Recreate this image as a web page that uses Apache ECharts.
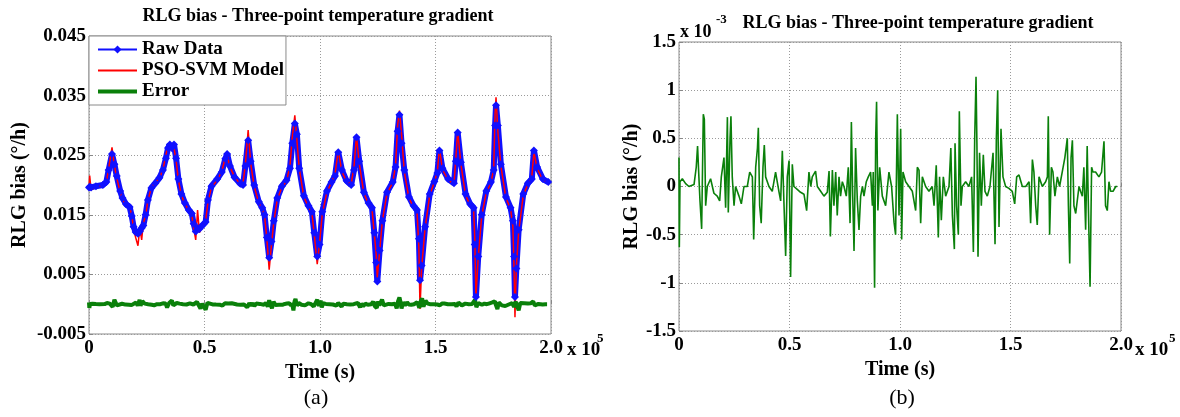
<!DOCTYPE html>
<html>
<head>
<meta charset="utf-8">
<script src="https://cdn.jsdelivr.net/npm/echarts@6/dist/echarts.min.js"></script>
<style>
html,body{margin:0;padding:0;background:#fff;}
#chart{width:1180px;height:417px;}
</style>
</head>
<body>
<div id="chart"></div>
<script>
// time (s) of the points
var rawTime = [0,300,900,3000,6000,7500,8500,9960,11000,12000,13500,14500,16000,17600,18500,19300,20200,21200,22000,22800,23500,24500,25500,27000,28700,30500,32000,33300,34200,35000,35800,36800,37700,38700,40000,41500,43200,44500,45300,46200,47000,47800,48800,50500,51500,53000,55500,57500,59000,59800,61000,63000,65500,66700,67700,68900,70000,71500,73500,75000,76000,77000,78000,79000,80000,81500,83500,85500,87000,88000,89100,90000,91000,93000,95000,96500,97500,98800,99800,101000,103000,105000,106500,107900,109500,111500,113500,114700,115800,117000,119000,121000,122500,123500,124300,124800,125800,127000,129000,131500,132700,133600,134400,135300,136500,138500,140500,142000,142800,143300,144000,145500,147500,149500,150800,151700,153000,155500,158000,158800,159600,161000,163000,165000,166500,167000,167500,168500,170000,172000,174000,175200,175800,176200,177000,178300,180500,182500,183500,184000,184400,185000,186000,188000,190000,191700,192600,194000,196500,198800];
var rawBias = [0.0196,0.0197,0.0196,0.0198,0.0200,0.0205,0.0225,0.0252,0.0235,0.0215,0.0190,0.0178,0.0168,0.0163,0.0148,0.0130,0.0121,0.0118,0.0122,0.0128,0.0132,0.0150,0.0175,0.0195,0.0203,0.0212,0.0225,0.0245,0.0262,0.0268,0.0262,0.0268,0.0245,0.0210,0.0185,0.0170,0.0158,0.0152,0.0135,0.0122,0.0128,0.0126,0.0131,0.0138,0.0175,0.0198,0.0210,0.0222,0.0244,0.0252,0.0232,0.0213,0.0202,0.0200,0.0232,0.0275,0.0240,0.0200,0.0172,0.0162,0.0150,0.0112,0.0078,0.0105,0.0140,0.0178,0.0198,0.0208,0.0228,0.0270,0.0303,0.0285,0.0228,0.0182,0.0165,0.0155,0.0120,0.0080,0.0100,0.0155,0.0190,0.0205,0.0215,0.0255,0.0225,0.0207,0.0200,0.0225,0.0280,0.0240,0.0188,0.0170,0.0162,0.0120,0.0070,0.0038,0.0090,0.0140,0.0188,0.0205,0.0230,0.0290,0.0318,0.0270,0.0225,0.0180,0.0165,0.0158,0.0110,0.0040,0.0065,0.0130,0.0185,0.0206,0.0220,0.0258,0.0228,0.0210,0.0203,0.0240,0.0288,0.0238,0.0185,0.0168,0.0162,0.0100,0.0012,0.0080,0.0150,0.0190,0.0205,0.0225,0.0300,0.0334,0.0300,0.0235,0.0180,0.0162,0.0140,0.0080,0.0012,0.0060,0.0125,0.0185,0.0203,0.0210,0.0258,0.0230,0.0210,0.0205];
var modelBias = [0.0196,0.0216,0.0192,0.0197,0.0199,0.0204,0.0228,0.0263,0.0232,0.0212,0.0188,0.0176,0.0166,0.0162,0.0150,0.0126,0.0112,0.0098,0.0128,0.0108,0.0136,0.0148,0.0174,0.0196,0.0205,0.0211,0.0226,0.0250,0.0268,0.0260,0.0270,0.0262,0.0242,0.0208,0.0183,0.0168,0.0158,0.0150,0.0128,0.0108,0.0158,0.0120,0.0128,0.0140,0.0172,0.0196,0.0208,0.0223,0.0246,0.0250,0.0230,0.0214,0.0201,0.0204,0.0235,0.0292,0.0236,0.0198,0.0170,0.0160,0.0148,0.0110,0.0058,0.0100,0.0138,0.0176,0.0196,0.0206,0.0232,0.0280,0.0317,0.0275,0.0228,0.0180,0.0163,0.0153,0.0118,0.0067,0.0102,0.0152,0.0188,0.0205,0.0218,0.0258,0.0222,0.0206,0.0202,0.0230,0.0282,0.0236,0.0186,0.0168,0.0160,0.0118,0.0085,0.0045,0.0088,0.0140,0.0186,0.0204,0.0232,0.0300,0.0325,0.0285,0.0222,0.0178,0.0163,0.0155,0.0095,-0.0008,0.0062,0.0128,0.0183,0.0205,0.0222,0.0262,0.0226,0.0208,0.0201,0.0245,0.0290,0.0235,0.0183,0.0166,0.0160,0.0110,0.0012,0.0078,0.0148,0.0188,0.0203,0.0228,0.0320,0.0347,0.0290,0.0232,0.0178,0.0160,0.0130,0.0060,-0.0022,0.0062,0.0122,0.0183,0.0201,0.0215,0.0255,0.0228,0.0208,0.0204];

// error, x 10^-3 deg/h
var errTime = [0,150,450,1500,3000,4500,6800,7800,8400,9000,9500,10250,11000,11460,12060,12800,14300,15800,17300,18400,19150,20350,21100,21900,22300,23100,23500,24100,24900,25600,27150,28200,29400,30900,32000,33200,33800,34700,35500,35900,36500,37200,38000,38600,39200,40700,42200,43700,45200,46000,46750,47500,48260,49000,49800,50500,51270,52000,53500,55000,56550,57760,58800,59600,60300,61800,62600,64100,65600,67100,67900,68500,69400,70100,70900,71600,72400,73100,73900,74650,75700,76600,77400,78000,78600,79200,79900,80700,81450,82200,83000,83700,84750,85650,86700,87500,87900,88500,89000,89400,90000,90800,92000,93500,95000,96200,97300,98000,98800,99550,100300,100750,101350,102560,104070,105580,107090,107840,108600,109350,110100,111600,113100,114600,115400,116400,117340,117900,118700,119600,120660,122170,123000,123700,124600,124900,125600,126400,126850,127600,128200,129700,131200,132400,133200,133800,134400,134800,135300,136000,136800,137700,138450,139500,140700,142100,143000,143600,144200,144800,145700,146600,147800,149300,150800,151900,152800,153850,155350,156900,158400,159100,159900,160600,161400,162100,162900,164400,165900,166700,167100,167700,168500,169200,170100,171200,172200,173400,174600,175700,176200,176800,177400,178000,178700,179500,180200,181000,181700,182500,183200,184000,184700,185500,186000,186700,187300,188500,190000,191200,192300,193000,193800,194550,195300,196400,197600,198300];
var errBias = [0.30,-0.63,0.05,0.08,0.03,0.00,0.02,0.20,0.42,0.10,-0.15,-0.44,0.75,0.70,-0.20,0.00,0.08,-0.07,-0.10,-0.15,0.10,0.30,-0.22,0.72,-0.27,0.50,0.73,0.10,-0.20,0.00,-0.10,-0.18,0.00,0.00,0.15,0.10,-0.55,0.20,0.40,0.61,-0.20,-0.38,0.20,0.43,0.10,0.00,-0.05,0.15,-0.05,-0.15,0.37,-0.18,-0.72,0.10,0.27,-0.94,0.23,0.00,-0.03,-0.06,-0.08,-0.25,0.15,0.00,0.10,0.16,0.00,-0.05,-0.10,-0.06,0.16,-0.52,0.17,-0.20,0.15,-0.30,0.10,-0.10,0.05,0.00,-0.10,0.20,-0.38,0.67,-0.10,-0.67,0.40,-0.15,-0.45,-0.10,0.00,-0.10,0.05,0.10,0.15,-0.20,0.15,-1.05,0.50,0.88,-0.25,0.20,-0.10,-0.20,0.15,0.00,-0.37,-0.50,0.75,-0.30,0.60,-0.55,0.15,0.05,0.00,-0.05,-0.25,0.20,0.17,-0.38,0.10,0.00,-0.05,0.00,-0.20,0.22,-0.53,0.10,-0.35,0.10,-0.10,0.00,0.40,-0.30,-0.65,0.45,-0.20,-0.50,0.78,-0.20,0.00,0.05,0.00,0.10,-0.68,0.50,1.14,0.45,-0.73,0.35,-0.20,0.33,-0.05,-0.10,0.00,0.35,-0.60,0.50,1.00,-0.42,0.60,0.10,0.00,-0.02,-0.05,-0.18,0.10,0.12,0.00,0.00,0.05,-0.38,0.28,0.15,-0.20,-0.40,0.10,0.00,0.05,0.10,0.73,-0.50,0.20,0.15,-0.10,0.10,0.00,0.15,0.30,0.50,-0.20,-0.80,0.30,0.48,-0.20,-0.28,-0.30,0.00,-0.05,-0.10,0.20,-0.45,0.42,-0.50,-1.04,0.20,0.15,0.15,0.10,0.15,0.47,-0.20,-0.25,0.05,-0.05,-0.05,0.00,0.00];

var rawData = rawTime.map(function(t, i){ return [t, rawBias[i]]; });
var modelData = rawTime.map(function(t, i){ return [t, modelBias[i]]; });
var errLeft = errTime.map(function(t, i){ return [t, errBias[i] / 1000]; });
var errRight = errTime.map(function(t, i){ return [t, errBias[i]]; });

var serif = "'Liberation Serif', 'Times New Roman', serif";
var green = '#0a800a';

function xLabel(v){
    return v === 0 ? '0' : (v / 1e5).toFixed(1);
}

function xAxisOpt(idx){
    return {
        type: 'value', gridIndex: idx, min: 0, max: 200000, interval: 50000,
        name: 'Time (s)', nameLocation: 'middle', nameGap: 24,
        nameTextStyle: {fontFamily: serif, fontWeight: 'bold', fontSize: 20, color: '#000'},
        axisLine: {show: false},
        axisTick: {show: true, inside: true, length: 4, lineStyle: {color: '#888'}},
        axisLabel: {formatter: xLabel, fontFamily: serif, fontWeight: 'bold', fontSize: 19, color: '#000', margin: 5},
        splitLine: {show: true, lineStyle: {color: '#9a9a9a', type: [1, 2], width: 1}}
    };
}

var chart = echarts.init(document.getElementById('chart'), null, {renderer: 'canvas'});

var option = {
    animation: false,
    backgroundColor: '#fff',
    grid: [
        {left: 89, top: 36, width: 462, height: 298, show: true, borderColor: '#8a8a8a', borderWidth: 1, backgroundColor: '#fff'},
        {left: 679, top: 42, width: 442, height: 289, show: true, borderColor: '#8a8a8a', borderWidth: 1, backgroundColor: '#fff'}
    ],
    xAxis: [xAxisOpt(0), xAxisOpt(1)],
    yAxis: [
        {
            type: 'value', gridIndex: 0, min: -0.005, max: 0.045, interval: 0.01,
            name: 'RLG bias (°/h)', nameLocation: 'middle', nameGap: 59,
            nameTextStyle: {fontFamily: serif, fontWeight: 'bold', fontSize: 20, color: '#000'},
            axisLine: {show: false},
            axisTick: {show: true, inside: true, length: 4, lineStyle: {color: '#888'}},
            axisLabel: {formatter: function(v){ return v.toFixed(3); }, fontFamily: serif, fontWeight: 'bold', fontSize: 19, color: '#000', margin: 3},
            splitLine: {show: true, lineStyle: {color: '#9a9a9a', type: [1, 2], width: 1}}
        },
        {
            type: 'value', gridIndex: 1, min: -1.5, max: 1.5, interval: 0.5,
            name: 'RLG bias (°/h)', nameLocation: 'middle', nameGap: 37,
            nameTextStyle: {fontFamily: serif, fontWeight: 'bold', fontSize: 20, color: '#000'},
            axisLine: {show: false},
            axisTick: {show: true, inside: true, length: 4, lineStyle: {color: '#888'}},
            axisLabel: {fontFamily: serif, fontWeight: 'bold', fontSize: 19, color: '#000', margin: 3},
            splitLine: {show: true, lineStyle: {color: '#9a9a9a', type: [1, 2], width: 1}}
        }
    ],
    legend: {
        orient: 'vertical', left: 89, top: 36,
        padding: [4, 2, 4, 7], itemGap: 2, itemWidth: 39, itemHeight: 10,
        backgroundColor: '#fff', borderColor: '#8a8a8a', borderWidth: 1, borderRadius: 0,
        textStyle: {fontFamily: serif, fontWeight: 'bold', fontSize: 19, color: '#000', lineHeight: 19},
        data: [
            {name: 'Raw Data', lineStyle: {width: 2}},
            {name: 'PSO-SVM Model', lineStyle: {width: 2}, itemStyle: {opacity: 0}},
            {name: 'Error', lineStyle: {width: 4}, itemStyle: {opacity: 0}}
        ]
    },
    series: [
        {
            name: 'Raw Data', type: 'line', xAxisIndex: 0, yAxisIndex: 0, data: rawData,
            showSymbol: true, showAllSymbol: true, symbol: 'diamond', symbolSize: 8,
            itemStyle: {color: '#1010ff'}, lineStyle: {color: '#1010ff', width: 6}
        },
        {
            name: 'PSO-SVM Model', type: 'line', xAxisIndex: 0, yAxisIndex: 0, data: modelData,
            showSymbol: false, symbol: 'none',
            itemStyle: {color: '#ff0000'}, lineStyle: {color: '#ff0000', width: 1.5}
        },
        {
            name: 'Error', type: 'line', xAxisIndex: 0, yAxisIndex: 0, data: errLeft,
            showSymbol: false, symbol: 'none',
            itemStyle: {color: green}, lineStyle: {color: green, width: 4}
        },
        {
            name: 'Error (b)', type: 'line', xAxisIndex: 1, yAxisIndex: 1, data: errRight,
            showSymbol: false, symbol: 'none',
            itemStyle: {color: green}, lineStyle: {color: green, width: 1.6}
        }
    ],
    graphic: [
        {type: 'text', x: 318, y: 16, style: {text: 'RLG bias - Three-point temperature gradient', font: 'bold 18px ' + serif, fill: '#000', textAlign: 'center', textVerticalAlign: 'middle'}},
        {type: 'text', x: 918, y: 23, style: {text: 'RLG bias - Three-point temperature gradient', font: 'bold 18px ' + serif, fill: '#000', textAlign: 'center', textVerticalAlign: 'middle'}},
        {type: 'text', x: 680, y: 32, style: {text: 'x 10', font: 'bold 18px ' + serif, fill: '#000', textAlign: 'left', textVerticalAlign: 'middle'}},
        {type: 'text', x: 716, y: 20, style: {text: '-3', font: 'bold 13px ' + serif, fill: '#000', textAlign: 'left', textVerticalAlign: 'middle'}},
        {type: 'text', x: 567, y: 350, style: {text: 'x 10', font: 'bold 19px ' + serif, fill: '#000', textAlign: 'left', textVerticalAlign: 'middle'}},
        {type: 'text', x: 597, y: 339, style: {text: '5', font: 'bold 13px ' + serif, fill: '#000', textAlign: 'left', textVerticalAlign: 'middle'}},
        {type: 'text', x: 1135, y: 350, style: {text: 'x 10', font: 'bold 19px ' + serif, fill: '#000', textAlign: 'left', textVerticalAlign: 'middle'}},
        {type: 'text', x: 1169, y: 339, style: {text: '5', font: 'bold 13px ' + serif, fill: '#000', textAlign: 'left', textVerticalAlign: 'middle'}},
        {type: 'text', x: 316, y: 398, style: {text: '(a)', font: '22px ' + serif, fill: '#000', textAlign: 'center', textVerticalAlign: 'middle'}},
        {type: 'text', x: 902, y: 398, style: {text: '(b)', font: '22px ' + serif, fill: '#000', textAlign: 'center', textVerticalAlign: 'middle'}}
    ]
};

chart.setOption(option);
</script>
</body>
</html>
